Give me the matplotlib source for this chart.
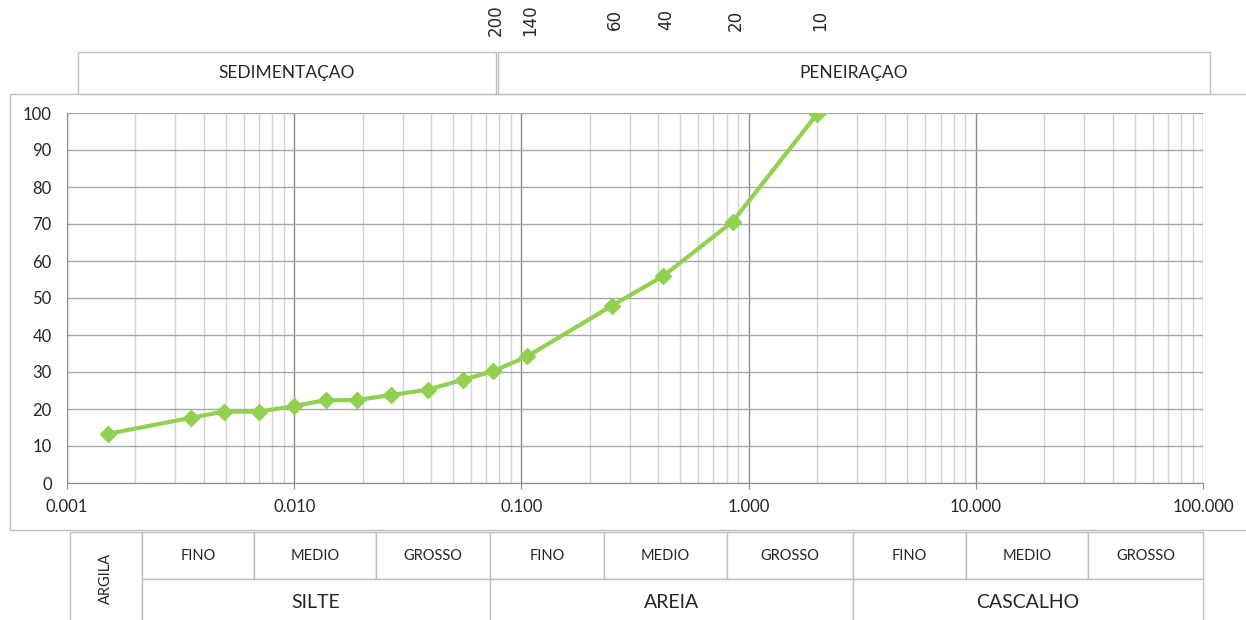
import numpy as np
import matplotlib.pyplot as plt
from matplotlib.patches import Rectangle
from matplotlib.ticker import LogLocator, NullFormatter
from matplotlib.transforms import blended_transform_factory

plt.rcParams['font.family'] = ['Lato', 'DejaVu Sans']

# grain size (mm) vs percent passing
diam = [0.00152, 0.0035, 0.0049, 0.0070, 0.0100, 0.0138, 0.0189, 0.0268,
        0.0387, 0.0551, 0.075, 0.106, 0.25, 0.42, 0.85, 2.0]
passing = [13.3, 17.6, 19.3, 19.3, 20.8, 22.4, 22.4, 23.8,
           25.2, 27.9, 30.2, 34.2, 47.9, 55.9, 70.6, 99.7]

xticks = [0.001, 0.01, 0.1, 1, 10, 100]
xtick_labels = ['0.001', '0.010', '0.100', '1.000', '10.000', '100.000']

sieve_sizes = [0.075, 0.106, 0.25, 0.42, 0.85, 2.0]
sieve_labels = ['200', '140', '60', '40', '20', '10']

W, H = 1246, 620
fig = plt.figure(figsize=(W / 100, H / 100), dpi=100)


def fx(px):
    return px / W


def fy(py):
    return 1 - py / H


edge = '#bfbfbf'
txt = '#262626'

# outer chart border
fig.add_artist(Rectangle((fx(10), fy(530)), fx(1260) - fx(10), fy(94) - fy(530),
                         transform=fig.transFigure, fill=False, ec=edge, lw=1))

ax = fig.add_axes([fx(67), fy(483), (1203 - 67) / W, (483 - 113) / H])
ax.plot(diam, passing, color='#92d050', lw=3, marker='D', markersize=8,
        markeredgecolor='#92d050', zorder=5)
ax.set_xscale('log')
ax.set_xlim(0.001, 100)
ax.set_ylim(0, 100)
ax.set_xticks(xticks)
ax.set_xticklabels(xtick_labels)
ax.xaxis.set_minor_locator(LogLocator(base=10, subs=range(2, 10)))
ax.xaxis.set_minor_formatter(NullFormatter())
ax.set_yticks(range(0, 101, 10))

ax.grid(which='major', axis='x', color='#8c8c8c', lw=1)
ax.grid(which='minor', axis='x', color='#d3d3d3', lw=1)
ax.grid(which='major', axis='y', color='#a6a6a6', lw=1)
ax.set_axisbelow(True)

ax.tick_params(axis='x', which='major', length=4.5, color='#8c8c8c', pad=7,
               labelsize=12, labelcolor=txt)
ax.tick_params(axis='x', which='minor', length=0)
ax.tick_params(axis='y', length=0, pad=11, labelsize=12, labelcolor=txt)
for s in ['top', 'right']:
    ax.spines[s].set_visible(False)
for s in ['left', 'bottom']:
    ax.spines[s].set_color('#8c8c8c')

# sieve numbers above the chart
trans = blended_transform_factory(ax.transData, fig.transFigure)
for size, lab in zip(sieve_sizes, sieve_labels):
    ax.text(size * 1.03, fy(20), lab, transform=trans, rotation=90,
            ha='center', va='center', fontsize=12, color=txt,
            family=['DejaVu Sans'], clip_on=False)


def cell(x0, x1, y0, y1, label, size=8.5, rot=0):
    fig.add_artist(Rectangle((fx(x0), fy(y1)), fx(x1) - fx(x0), fy(y0) - fy(y1),
                             transform=fig.transFigure, fc='white', ec=edge, lw=1))
    fig.text(fx((x0 + x1) / 2), fy((y0 + y1) / 2), label, ha='center', va='center',
             fontsize=size, color=txt, rotation=rot)


# top boxes
cell(78, 496, 52, 94, 'SEDIMENTAÇAO', size=12.5)
cell(498, 1210, 52, 94, 'PENEIRAÇAO', size=12.5)

# bottom classification table
cell(70, 142, 532, 625, 'ARGILA', size=10.5, rot=90)
sub = [(142, 254, 'FINO'), (254, 376, 'MEDIO'), (376, 490, 'GROSSO'),
       (490, 604, 'FINO'), (604, 727, 'MEDIO'), (727, 853, 'GROSSO'),
       (853, 966, 'FINO'), (966, 1088, 'MEDIO'), (1088, 1203, 'GROSSO')]
for x0, x1, lab in sub:
    cell(x0, x1, 532, 579, lab, size=10.5)
main = [(142, 490, 'SILTE'), (490, 853, 'AREIA'), (853, 1203, 'CASCALHO')]
for x0, x1, lab in main:
    cell(x0, x1, 579, 625, lab, size=14)

fig.savefig('out.png', dpi=100)
